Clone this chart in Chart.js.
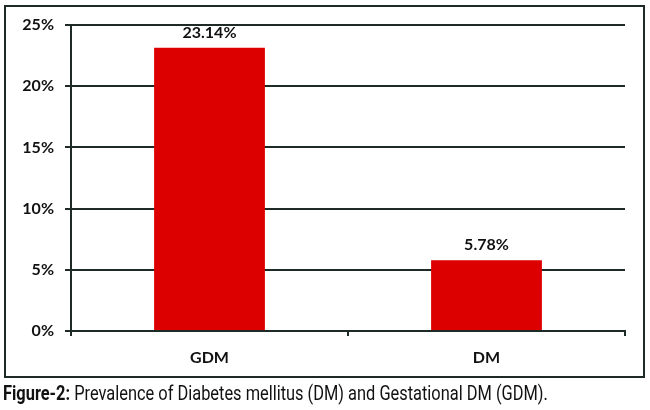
<!DOCTYPE html>
<html>
<head>
<meta charset="utf-8">
<script src="https://cdn.jsdelivr.net/npm/chart.js@4/dist/chart.umd.min.js"></script>
<style>
  html, body { margin: 0; padding: 0; background: #fff; }
  #wrap { position: relative; width: 650px; height: 410px; }
  #box { position: absolute; left: 4px; top: 5px; width: 637px; height: 369px; border: 2px solid #1e2a26; }
  #chart { position: absolute; left: 0; top: 0; }
  #caption { position: absolute; left: 3px; top: 382px; font-family: Roboto, sans-serif; font-size: 20px; line-height: 23px; color: #111; white-space: nowrap; transform: scaleX(0.82); transform-origin: left top; }
  #caption b { font-weight: bold; }
</style>
</head>
<body>
<div id="wrap">
  <canvas id="chart" width="650" height="380"></canvas>
  <div id="box"></div>
  <div id="caption"><b>Figure-2:</b> Prevalence of Diabetes mellitus (DM) and Gestational DM (GDM).</div>
</div>
<script>
const categories = ['GDM', 'DM'];
const prevalence = [23.14, 5.78];
const valueLabels = ['23.14%', '5.78%'];
const yTicks = [0, 5, 10, 15, 20, 25];

const lineColor = '#1e2a26';

// draws the percentage above each bar
const barLabels = {
  id: 'barLabels',
  afterDatasetsDraw(chart) {
    const ctx = chart.ctx;
    const meta = chart.getDatasetMeta(0);
    ctx.save();
    ctx.font = 'bold 16px Lato, sans-serif';
    ctx.fillStyle = '#111';
    ctx.textAlign = 'center';
    ctx.textBaseline = 'bottom';
    meta.data.forEach((bar, i) => {
      ctx.fillText(valueLabels[i], bar.x, bar.y - 7);
    });
    ctx.restore();
  }
};

new Chart(document.getElementById('chart').getContext('2d'), {
  type: 'bar',
  data: {
    labels: categories,
    datasets: [{
      data: prevalence,
      backgroundColor: '#dd0000',
      borderWidth: 0,
      categoryPercentage: 0.8,
      barPercentage: 0.5
    }]
  },
  options: {
    responsive: false,
    animation: false,
    layout: { padding: { top: 25, right: 25, left: 0, bottom: 0 } },
    plugins: { legend: { display: false }, tooltip: { enabled: false } },
    scales: {
      x: {
        afterFit: s => { s.height = 49; },
        grid: { drawOnChartArea: false, drawTicks: true, tickLength: 5, color: lineColor, lineWidth: 2 },
        border: { color: lineColor, width: 2 },
        ticks: { color: '#111', padding: 12, font: { family: 'Lato', size: 16, weight: 'bold' } }
      },
      y: {
        min: 0,
        max: 25,
        afterFit: s => { s.width = 71; },
        afterBuildTicks: s => { s.ticks = yTicks.map(v => ({ value: v })); },
        grid: { color: lineColor, lineWidth: 2, drawTicks: true, tickLength: 6 },
        border: { color: lineColor, width: 2 },
        ticks: {
          color: '#111',
          padding: 11,
          font: { family: 'Lato', size: 16, weight: 'bold' },
          callback: v => v + '%'
        }
      }
    }
  },
  plugins: [barLabels]
});
</script>
</body>
</html>
